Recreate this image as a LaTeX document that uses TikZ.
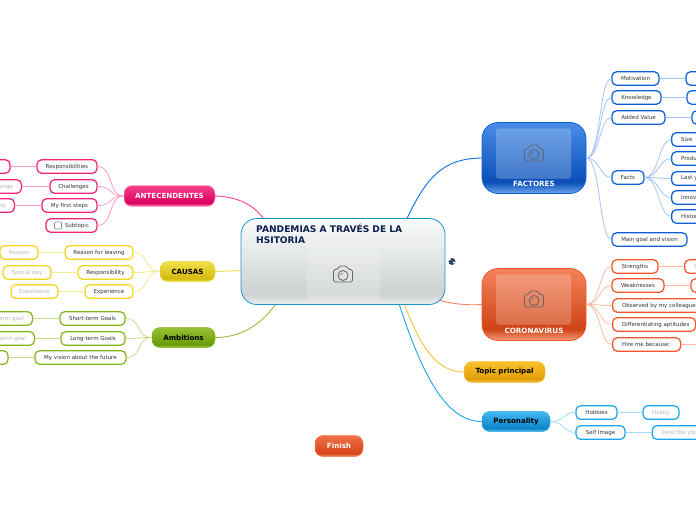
\documentclass[tikz,border=0pt]{standalone}
\usepackage{fontspec}
\setmainfont{DejaVu Sans}
\definecolor{pk}{HTML}{F5227A}\definecolor{pkl}{HTML}{FF9CC4}
\definecolor{yl}{HTML}{EED71C}\definecolor{yll}{HTML}{F6EB8E}
\definecolor{gn}{HTML}{84B51A}\definecolor{gnl}{HTML}{C5DD8A}
\definecolor{bl}{HTML}{0D5FD6}\definecolor{bll}{HTML}{A5C6F5}
\definecolor{og}{HTML}{F4552A}\definecolor{ogl}{HTML}{FDBBA6}
\definecolor{cy}{HTML}{1BA5EA}\definecolor{cyl}{HTML}{A0DBF8}
\definecolor{am}{HTML}{F9C23A}\definecolor{ttl}{HTML}{0B1F4F}
\definecolor{pd}{HTML}{D9005F}\definecolor{pe}{HTML}{F5408C}
\definecolor{yd}{HTML}{D6B90F}\definecolor{ye}{HTML}{EFE04A}\definecolor{yb}{HTML}{F3E668}
\definecolor{gd}{HTML}{689A07}\definecolor{ge}{HTML}{97C233}\definecolor{gb}{HTML}{A9CF55}
\definecolor{bd}{HTML}{0A4FB8}\definecolor{be}{HTML}{4A8DE6}\definecolor{bb}{HTML}{6FA5EC}
\definecolor{od}{HTML}{CF4314}\definecolor{oe}{HTML}{F5835C}\definecolor{ob}{HTML}{F79A7C}
\definecolor{ad}{HTML}{E09C08}\definecolor{ae}{HTML}{F9C32E}\definecolor{ab}{HTML}{FBD568}
\definecolor{cd}{HTML}{0A85C9}\definecolor{ce}{HTML}{43B7F2}\definecolor{cb}{HTML}{7BCEF6}
\definecolor{fd}{HTML}{D8451A}\definecolor{fe}{HTML}{F0704A}\definecolor{fb}{HTML}{F59A7E}
\definecolor{wd}{HTML}{CDD1D2}\definecolor{we}{HTML}{FAFBFB}\definecolor{wb}{HTML}{EEF0F0}
\pgfdeclareverticalshading{gpink}{100bp}{color(0bp)=(pkl);color(25bp)=(pkl);color(33bp)=(pd);color(75bp)=(pe);color(100bp)=(pe)}
\pgfdeclareverticalshading{gyel}{100bp}{color(0bp)=(yb);color(25bp)=(yb);color(32bp)=(yd);color(75bp)=(ye);color(100bp)=(ye)}
\pgfdeclareverticalshading{ggrn}{100bp}{color(0bp)=(gb);color(25bp)=(gb);color(32bp)=(gd);color(75bp)=(ge);color(100bp)=(ge)}
\pgfdeclareverticalshading{gblu}{100bp}{color(0bp)=(bb);color(25bp)=(bb);color(33bp)=(bd);color(75bp)=(be);color(100bp)=(be)}
\pgfdeclareverticalshading{gorg}{100bp}{color(0bp)=(ob);color(25bp)=(ob);color(33bp)=(od);color(75bp)=(oe);color(100bp)=(oe)}
\pgfdeclareverticalshading{gamb}{100bp}{color(0bp)=(ab);color(25bp)=(ab);color(32bp)=(ad);color(75bp)=(ae);color(100bp)=(ae)}
\pgfdeclareverticalshading{gcya}{100bp}{color(0bp)=(cb);color(25bp)=(cb);color(32bp)=(cd);color(75bp)=(ce);color(100bp)=(ce)}
\pgfdeclareverticalshading{gfin}{100bp}{color(0bp)=(fb);color(25bp)=(fb);color(32bp)=(fd);color(75bp)=(fe);color(100bp)=(fe)}
\pgfdeclareverticalshading{gwht}{100bp}{color(0bp)=(wb);color(25bp)=(wb);color(31bp)=(wd);color(75bp)=(we);color(100bp)=(we)}
\newcommand{\camicon}[1]{%
 \begin{scope}[shift={(#1)},draw=black!60,line width=.8pt,fill=none]
  \draw[rounded corners=1.6pt] (-9.5,-5) -- (-5,-5) -- (-4,-8.5) -- (4,-8.5) -- (5,-5) -- (9.5,-5) -- (9.5,7.5) -- (-9.5,7.5) -- cycle;
  \draw (0,1) circle (5);
  \draw[line width=.5pt] (-2.5,1) arc (180:270:2.5);
 \end{scope}}
\newcommand{\lb}[2]{\makebox[#1][l]{#2}}
\tikzset{
 x=1pt,y=-1pt,
 subn/.style={draw=#1,line width=1.25pt,fill=white,rounded corners=4.5pt,inner sep=0pt,minimum height=13.4pt,text=black!80,font=\fontsize{5.5}{6.5}\selectfont},
 leaf/.style={subn=#1,text=black!28},
 rcut/.style={anchor=west,inner xsep=9.5pt},
 lcut/.style={anchor=east,inner xsep=8.5pt},
 hub/.style={rounded corners=8pt,inner sep=0pt,font=\fontsize{7.1}{8}\selectfont\bfseries},
 photo/.style={hub,rounded corners=16pt},
 img/.style={rounded corners=3pt,inner sep=0pt,fill=white,fill opacity=.22,draw=white,draw opacity=.12},
 hl/.style={text=white,inner sep=0pt,font=\fontsize{7.2}{8}\selectfont\bfseries},
 pt/.style={pkl,line width=.8pt},
 yt/.style={yll,line width=.8pt}, gt/.style={gnl,line width=.8pt},
 bt/.style={bll,line width=.8pt}, ot/.style={ogl,line width=.8pt}, ct/.style={cyl,line width=.8pt},
 thick line/.style={line width=1.6pt},
 crv/.style={line width=.9pt},
}
\begin{document}
\begin{tikzpicture}
\useasboundingbox (0,0) rectangle (696,520);
\clip (0,0) rectangle (696,520);
\fill[white] (0,0) rectangle (696,520);
\begin{scope}[shift={(0,0.5)}]
\coordinate (sF) at (405,222);
\coordinate (sC) at (436,299);
\coordinate (sA) at (266,222);
\coordinate (sK) at (245,270);
\coordinate (sM) at (278,300);
\coordinate (sT) at (403,300);
\coordinate (sP) at (398,300);
% main nodes
\node[hub,shading=gpink,draw=pkl,line width=.5pt,minimum width=91pt,minimum height=21pt,text=white] (ant) at (169.5,195.5) {ANTECENDENTES};
\node[hub,shading=gyel,draw=yl,line width=.5pt,minimum width=55pt,minimum height=20pt] (cau) at (187.5,271) {CAUSAS};
\node[hub,shading=ggrn,draw=gn,line width=.5pt,minimum width=63pt,minimum height=20pt] (amb) at (183.5,337) {Ambitions};
\node[photo,shading=gblu,draw=bl,line width=.7pt,minimum width=104pt,minimum height=71pt] (fac) at (534,157.5) {};
\node[photo,shading=gorg,draw=og,line width=.7pt,minimum width=104pt,minimum height=72pt] (cor) at (534,304) {};
\node[hub,shading=gamb,draw=am,line width=.5pt,minimum width=81pt,minimum height=21pt] (top) at (504.5,371.5) {Topic principal};
\node[hub,shading=gcya,draw=cy,line width=.5pt,minimum width=68pt,minimum height=20pt] (per) at (516,421) {Personality};
\node[hub,shading=gfin,draw=og!80,line width=.5pt,minimum width=48pt,minimum height=21pt,text=white] (fin) at (339,445.5) {Finish};
% sub nodes, left
\node[subn=pk,minimum width=60pt] (a1) at (67,166) {Responsibilities};
\node[subn=pk,minimum width=47pt] (a2) at (73.5,186) {Challenges};
\node[subn=pk,minimum width=55pt] (a3) at (69.5,205) {My first steps};
\node[subn=pk,minimum width=51pt] (a4) at (71.5,225) {\hspace{11pt}Subtopic};
\node[leaf=pk,minimum width=40pt] (a1l) at (-10,166) {};
\node[leaf=pk,lcut] (a2l) at (22,186) {Challenge};
\node[leaf=pk,lcut] (a3l) at (15,205) {First step};
\draw[black!45,line width=.6pt,fill=white,rounded corners=.8pt] (54.5,221.5) rectangle (61.5,228.5);
\node[subn=yl,minimum width=68pt] (k1) at (99,252) {Reason for leaving};
\node[subn=yl,minimum width=55pt] (k2) at (105.5,272) {Responsibility};
\node[subn=yl,minimum width=48pt] (k3) at (109,291) {Experience};
\node[leaf=yl,minimum width=38pt] (k1l) at (19,252) {Reason};
\node[leaf=yl,minimum width=48pt] (k2l) at (27,272) {Typical day};
\node[leaf=yl,minimum width=47pt] (k3l) at (34.5,291) {Experience};
\node[subn=gn,minimum width=65pt] (m1) at (92.5,318) {Short-term Goals};
\node[subn=gn,minimum width=64pt] (m2) at (93,338) {Long-term Goals};
\node[subn=gn,minimum width=91pt] (m3) at (80.5,357) {My vision about the future};
\node[leaf=gn,lcut] (m1l) at (33,318) {Short-term goal};
\node[leaf=gn,lcut] (m2l) at (35,338) {Long-term goal};
\node[leaf=gn,minimum width=40pt] (m3l) at (-12,357) {};
% sub nodes, right
\node[subn=bl,minimum width=47pt] (f1) at (635.5,78) {Motivation};
\node[subn=bl,minimum width=49pt] (f2) at (636.5,97) {Knowledge};
\node[subn=bl,minimum width=53pt] (f3) at (638.5,117) {Added Value};
\node[subn=bl,minimum width=32pt] (f4) at (628,177) {Facts};
\node[subn=bl,minimum width=75pt] (f5) at (649.5,239) {Main goal and vision};
\node[leaf=bl,minimum width=50pt] (f1l) at (711,78) {};
\node[leaf=bl,minimum width=50pt] (f2l) at (712,97) {};
\node[leaf=bl,minimum width=50pt] (f3l) at (717,117) {};
\node[subn=bl,rcut] (s1) at (671,139) {\lb{30pt}{Size}};
\node[subn=bl,rcut] (s2) at (671,158) {\lb{40pt}{Product}};
\node[subn=bl,rcut] (s3) at (671,178) {\lb{40pt}{Last year}};
\node[subn=bl,rcut] (s4) at (671,197) {\lb{40pt}{Innovation}};
\node[subn=bl,rcut] (s5) at (671,216) {\lb{40pt}{History}};
\node[subn=og,minimum width=46pt] (c1) at (635,266) {Strengths};
\node[subn=og,minimum width=52pt] (c2) at (638,285) {Weaknesses};
\node[subn=og,rcut] (c3) at (612,305) {\lb{80pt}{Observed by my colleagues}};
\node[subn=og,rcut] (c4) at (612,324) {\lb{64pt}{Differentiating aptitudes}};
\node[subn=og,rcut] (c5) at (612,344) {\lb{49pt}{Hire me because:}};
\node[leaf=og,rcut] (c1l) at (684,266) {\lb{30pt}{Strength}};
\node[leaf=og,minimum width=50pt] (c2l) at (716,285) {};
\coordinate (c5l) at (700,344);
\node[subn=cy,minimum width=41pt] (p1) at (596.5,412) {Hobbies};
\node[subn=cy,minimum width=49pt] (p2) at (600.5,432) {Self Image};
\node[leaf=cy,minimum width=36pt] (p1l) at (661,412) {Hobby};
\node[leaf=cy,rcut] (p2l) at (651.5,432) {\lb{60pt}{Describe yourself}};
% connectors
\draw[crv,pk!85] (sA) .. controls (255,203) and (235,196) .. (ant.east);
\draw[crv,yl!80] (sK) .. controls (232,270) and (225,271) .. (cau.east);
\draw[crv,gn!85] (sM) .. controls (262,325) and (240,337) .. (amb.east);
\draw[crv,bl!90!cyan] (sF) .. controls (425,180) and (440,158) .. (fac.west);
\draw[crv,og!75] (sC) .. controls (450,303) and (465,305) .. (cor.west);
\draw[crv,am] (sT) .. controls (420,345) and (435,371) .. (top.west);
\draw[crv,cy] (sP) .. controls (425,385) and (450,421) .. (per.west);
\foreach \e in {a1,a2,a3,a4} \draw[pt] (ant.west) .. controls +(-16,0) and +(16,0) .. (\e.east);
\foreach \e in {k1,k2,k3} \draw[yt] (cau.west) .. controls +(-16,0) and +(16,0) .. (\e.east);
\foreach \e in {m1,m2,m3} \draw[gt] (amb.west) .. controls +(-16,0) and +(16,0) .. (\e.east);
\foreach \e in {f1,f2,f3,f4,f5} \draw[bt] (fac.east) .. controls +(14,0) and +(-12,0) .. (\e.west);
\foreach \e in {s1,s2,s3,s4,s5} \draw[bt] (f4.east) .. controls +(14,0) and +(-12,0) .. (\e.west);
\foreach \e in {c1,c2,c3,c4,c5} \draw[ot] (cor.east) .. controls +(14,0) and +(-12,0) .. (\e.west);
\foreach \e in {p1,p2} \draw[ct] (per.east) .. controls +(14,0) and +(-12,0) .. (\e.west);
\draw[pt] (a1) -- (a1l); \draw[pt] (a2) -- (a2l); \draw[pt] (a3) -- (a3l);
\draw[yt] (k1) -- (k1l); \draw[yt,thick line] (k2) -- (k2l); \draw[yt] (k3) -- (k3l);
\draw[gt] (m1) -- (m1l); \draw[gt] (m2) -- (m2l); \draw[gt] (m3) -- (m3l);
\draw[bt,thick line] (f1) -- (f1l); \draw[bt] (f2) -- (f2l); \draw[bt,thick line] (f3) -- (f3l);
\draw[ot,thick line] (c1) -- (c1l); \draw[ot] (c2) -- (c2l); \draw[ot,thick line] (c5) -- (c5l);
\draw[ct] (p1) -- (p1l); \draw[ct,thick line] (p2) -- (p2l);
% central node
\node[draw=cy!90!black,line width=.8pt,shading=gwht,rounded corners=16pt,minimum width=204pt,minimum height=86pt,inner sep=0pt] (c) at (343,261) {};
\node[anchor=north west,inner sep=0pt,align=left,text=ttl,font=\fontsize{9.1}{11}\selectfont\bfseries] (ct) at (256,223) {PANDEMIAS A TRAVÉS DE LA\\HSITORIA};
\node[img,fill opacity=.18,draw opacity=.2,minimum width=73pt,minimum height=48pt] (ci) at (343.5,274) {};
\camicon{343,274}
\node[img,minimum width=75pt,minimum height=50pt] (fi) at (533.5,153) {};
\camicon{534,153}
\node[hl] (fl) at (534,183.5) {FACTORES};
\node[img,minimum width=75pt,minimum height=50pt] (ri) at (533.5,299) {};
\camicon{534,299}
\node[hl] (rl) at (534,330.5) {CORONAVIRUS};
\node[circle,fill=ttl!85,inner sep=0pt,minimum size=7pt] (gl) at (452,261) {};
\fill[white] (450,259) circle (1) (454,262) circle (1.1);
\end{scope}
\end{tikzpicture}
\end{document}
